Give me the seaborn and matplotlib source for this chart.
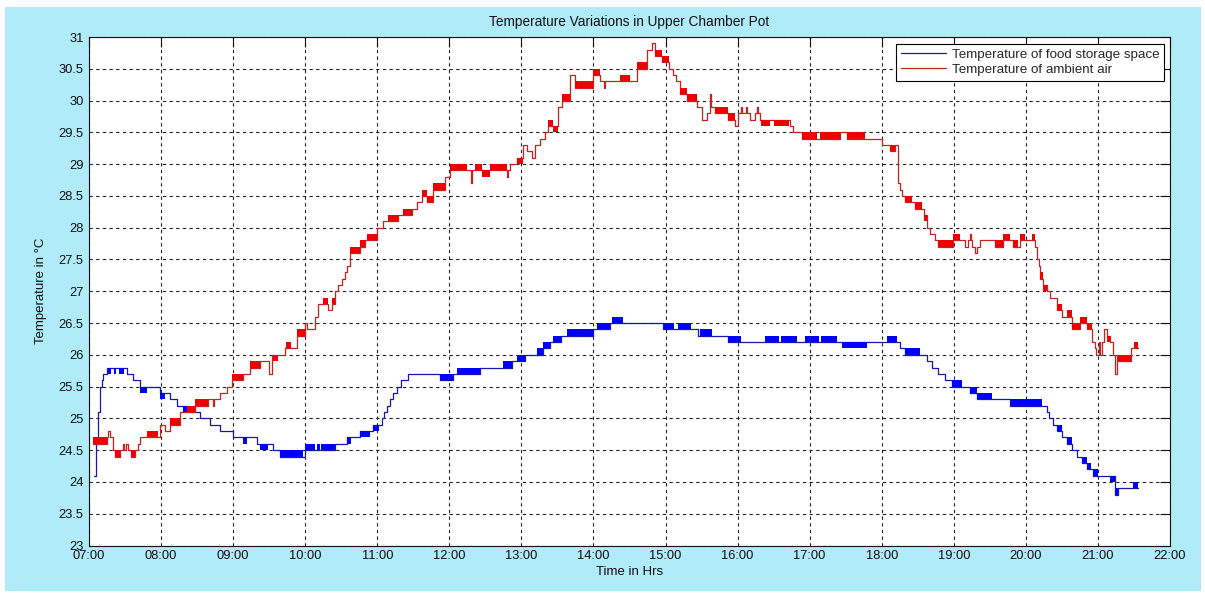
import matplotlib
matplotlib.use("Agg")
import matplotlib.pyplot as plt
from matplotlib.patches import Rectangle
import pandas as pd
import seaborn as sns

# ---------------- data (time in decimal hours) ----------------
food_time = [7.07, 7.10, 7.13, 7.15, 7.18, 7.20, 7.25, 7.53, 7.61, 7.71, 7.99, 8.12, 8.22, 8.40,
             8.54, 8.68, 8.82, 9.00, 9.33, 9.55, 9.65, 10.00, 10.41, 10.58, 10.76, 10.94, 11.06,
             11.10, 11.14, 11.18, 11.22, 11.27, 11.33, 11.42, 11.87, 12.05, 12.43, 12.87, 13.05,
             13.30, 13.40, 13.55, 13.99, 14.23, 14.96, 15.45, 15.87, 18.25, 18.32, 18.63, 18.70,
             18.78, 18.88, 18.97, 19.22, 19.32, 19.78, 20.29, 20.32, 20.38, 20.43, 20.50, 20.57,
             20.64, 20.71, 20.78, 20.85, 20.93, 21.24, 21.28, 21.56]
food_temp = [24.1, 24.6, 25.1, 25.5, 25.6, 25.7, 25.8, 25.7, 25.6, 25.5, 25.4, 25.3, 25.2, 25.1,
             25.0, 24.9, 24.8, 24.7, 24.6, 24.5, 24.4, 24.5, 24.6, 24.7, 24.8, 24.9, 25.0,
             25.1, 25.2, 25.3, 25.4, 25.5, 25.6, 25.7, 25.6, 25.7, 25.8, 25.9, 26.0,
             26.1, 26.2, 26.3, 26.4, 26.5, 26.4, 26.3, 26.2, 26.1, 26.0, 25.9, 25.8,
             25.7, 25.6, 25.5, 25.4, 25.3, 25.2, 25.1, 25.0, 24.9, 24.8, 24.7, 24.6,
             24.5, 24.4, 24.3, 24.2, 24.1, 23.8, 23.9, 23.9]
food_band_start = [7.26, 7.34, 7.42, 7.71, 7.99, 8.30, 9.14, 9.37, 9.65, 10.00, 10.16, 10.22,
                   10.58, 10.76, 10.94, 11.87, 12.10, 12.74, 12.94, 13.22, 13.30, 13.44, 13.63,
                   14.05, 14.26, 14.98, 15.17, 15.48, 15.87, 16.38, 16.60, 16.93, 17.16, 17.45,
                   18.07, 18.32, 18.97, 19.22, 19.32, 19.80, 20.43, 20.57, 20.78, 20.85, 20.93,
                   21.17, 21.24, 21.49]
food_band_end = [7.30, 7.38, 7.48, 7.80, 8.06, 8.37, 9.19, 9.48, 9.97, 10.13, 10.20, 10.41,
                 10.64, 10.90, 11.03, 12.05, 12.43, 12.87, 13.05, 13.30, 13.40, 13.55, 13.99,
                 14.23, 14.41, 15.12, 15.35, 15.64, 16.05, 16.58, 16.82, 17.13, 17.38, 17.80,
                 18.21, 18.53, 19.11, 19.32, 19.53, 20.22, 20.50, 20.64, 20.85, 20.90, 21.00,
                 21.24, 21.28, 21.56]
food_band_low = [25.7, 25.7, 25.7, 25.4, 25.3, 25.1, 24.6, 24.5, 24.4, 24.5, 24.5, 24.5,
                 24.6, 24.7, 24.8, 25.6, 25.7, 25.8, 25.9, 26.0, 26.1, 26.2, 26.3,
                 26.4, 26.5, 26.4, 26.4, 26.3, 26.2, 26.2, 26.2, 26.2, 26.2, 26.1,
                 26.2, 26.0, 25.5, 25.4, 25.3, 25.2, 24.8, 24.6, 24.3, 24.2, 24.1,
                 24.0, 23.8, 23.9]
food_band_high = [25.8, 25.8, 25.8, 25.5, 25.4, 25.2, 24.7, 24.6, 24.5, 24.6, 24.6, 24.6,
                  24.7, 24.8, 24.9, 25.7, 25.8, 25.9, 26.0, 26.1, 26.2, 26.3, 26.4,
                  26.5, 26.6, 26.5, 26.5, 26.4, 26.3, 26.3, 26.3, 26.3, 26.3, 26.2,
                  26.3, 26.1, 25.6, 25.5, 25.4, 25.3, 24.9, 24.7, 24.4, 24.3, 24.2,
                  24.1, 23.9, 24.0]

air_time = [7.06, 7.25, 7.27, 7.285, 7.33, 7.36, 7.43, 7.47, 7.485, 7.52, 7.535, 7.58, 7.64,
            7.68, 7.71, 7.99, 8.05, 8.12, 8.26, 8.47, 8.65, 8.72, 8.735, 8.82, 8.92, 8.99,
            9.14, 9.24, 9.37, 9.50, 9.54, 9.72, 9.89, 10.00, 10.03, 10.14, 10.18, 10.32,
            10.37, 10.41, 10.46, 10.51, 10.55, 10.58, 10.62, 10.76, 10.83, 11.00, 11.08,
            11.29, 11.48, 11.55, 11.62, 11.69, 11.78, 11.94, 12.01, 12.30, 12.315, 12.80,
            12.815, 12.84, 12.94, 13.02, 13.08, 13.15, 13.19, 13.26, 13.33, 13.37, 13.51,
            13.56, 13.67, 13.74, 13.99, 14.09, 14.15, 14.165, 14.60, 14.74, 14.81, 14.86,
            14.95, 15.05, 15.10, 15.15, 15.20, 15.30, 15.44, 15.51, 15.58, 15.62, 15.635,
            15.69, 15.87, 15.96, 16.00, 16.05, 16.065, 16.12, 16.135, 16.17, 16.24, 16.27,
            16.285, 16.31, 16.73, 16.77, 16.90, 17.42, 17.52, 18.00, 18.11, 18.18, 18.22,
            18.23, 18.25, 18.28, 18.32, 18.46, 18.58, 18.63, 18.67, 18.74, 18.78, 18.99,
            19.15, 19.20, 19.22, 19.235, 19.25, 19.29, 19.32, 19.36, 19.57, 19.68, 19.82,
            19.92, 20.13, 20.15, 20.18, 20.20, 20.24, 20.29, 20.33, 20.43, 20.50, 20.64,
            20.75, 20.85, 20.92, 20.96, 20.98, 21.02, 21.035, 21.06, 21.09, 21.13, 21.17,
            21.21, 21.23, 21.27, 21.28, 21.46, 21.56]
air_temp = [24.6, 24.7, 24.8, 24.7, 24.5, 24.4, 24.5, 24.6, 24.5, 24.6, 24.5, 24.4, 24.5,
            24.6, 24.7, 24.9, 24.8, 24.9, 25.1, 25.2, 25.3, 25.2, 25.3, 25.4, 25.5, 25.6,
            25.7, 25.8, 25.9, 25.7, 26.0, 26.1, 26.3, 26.5, 26.4, 26.6, 26.8, 26.7,
            26.8, 27.0, 27.1, 27.2, 27.3, 27.4, 27.6, 27.7, 27.8, 28.0, 28.1,
            28.2, 28.3, 28.4, 28.5, 28.4, 28.6, 28.8, 28.9, 28.7, 28.9, 28.8,
            28.9, 29.0, 29.1, 29.3, 29.2, 29.1, 29.3, 29.4, 29.5, 29.6, 29.9,
            30.0, 30.4, 30.2, 30.4, 30.3, 30.2, 30.3, 30.5, 30.8, 30.9, 30.7,
            30.6, 30.5, 30.4, 30.3, 30.1, 30.0, 29.9, 29.7, 29.8, 30.1, 29.9,
            29.8, 29.7, 29.6, 29.8, 29.9, 29.8, 29.9, 29.8, 29.7, 29.8, 29.9,
            29.8, 29.7, 29.6, 29.5, 29.4, 29.5, 29.4, 29.3, 29.2, 29.3, 29.0,
            28.7, 28.6, 28.5, 28.4, 28.3, 28.2, 28.0, 27.9, 27.8, 27.7, 27.8,
            27.7, 27.8, 27.9, 27.8, 27.7, 27.6, 27.7, 27.8, 27.7, 27.8, 27.7,
            27.8, 27.7, 27.5, 27.4, 27.2, 27.1, 27.0, 26.9, 26.7, 26.6, 26.4,
            26.5, 26.4, 26.2, 26.1, 26.0, 26.2, 26.0, 26.2, 26.4, 26.3, 26.2,
            26.0, 25.7, 26.0, 25.9, 26.1, 26.1]
air_band_start = [7.06, 7.36, 7.58, 7.80, 8.12, 8.36, 8.47, 8.99, 9.24, 9.55, 9.74, 9.89,
                  10.25, 10.37, 10.62, 10.76, 10.86, 11.15, 11.36, 11.62, 11.69, 11.78, 12.01,
                  12.36, 12.45, 12.56, 12.94, 13.37, 13.44, 13.56, 13.74, 13.99, 14.37, 14.60,
                  14.86, 14.95, 15.20, 15.30, 15.69, 15.87, 16.33, 16.50, 16.90, 17.14, 17.52,
                  18.11, 18.32, 18.46, 18.58, 18.78, 18.99, 19.57, 19.68, 19.82, 19.92, 20.08,
                  20.20, 20.24, 20.43, 20.57, 20.64, 20.75, 20.85, 21.13, 21.28, 21.50]
air_band_end = [7.25, 7.43, 7.64, 7.96, 8.26, 8.47, 8.65, 9.14, 9.37, 9.62, 9.80, 10.00,
                10.32, 10.41, 10.76, 10.83, 11.00, 11.29, 11.48, 11.69, 11.78, 11.94, 12.24,
                12.45, 12.56, 12.80, 13.02, 13.44, 13.51, 13.67, 13.99, 14.09, 14.51, 14.74,
                14.95, 15.05, 15.30, 15.44, 15.87, 15.96, 16.45, 16.72, 17.10, 17.42, 17.77,
                18.18, 18.42, 18.56, 18.63, 18.99, 19.09, 19.68, 19.78, 19.89, 19.99, 20.13,
                20.24, 20.29, 20.50, 20.64, 20.75, 20.85, 20.92, 21.17, 21.46, 21.56]
air_band_low = [24.6, 24.4, 24.4, 24.7, 24.9, 25.1, 25.2, 25.6, 25.8, 25.9, 26.1, 26.3,
                26.8, 26.8, 27.6, 27.7, 27.8, 28.1, 28.2, 28.5, 28.4, 28.6, 28.9,
                28.9, 28.8, 28.9, 29.0, 29.6, 29.5, 30.0, 30.2, 30.4, 30.3, 30.5,
                30.7, 30.6, 30.1, 30.0, 29.8, 29.7, 29.6, 29.6, 29.4, 29.4, 29.4,
                29.2, 28.4, 28.3, 28.1, 27.7, 27.8, 27.7, 27.8, 27.7, 27.8, 27.8,
                27.2, 27.0, 26.7, 26.6, 26.4, 26.5, 26.4, 26.2, 25.9, 26.1]
air_band_high = [24.7, 24.5, 24.5, 24.8, 25.0, 25.2, 25.3, 25.7, 25.9, 26.0, 26.2, 26.4,
                 26.9, 26.9, 27.7, 27.8, 27.9, 28.2, 28.3, 28.6, 28.5, 28.7, 29.0,
                 29.0, 28.9, 29.0, 29.1, 29.7, 29.6, 30.1, 30.3, 30.5, 30.4, 30.6,
                 30.8, 30.7, 30.2, 30.1, 29.9, 29.8, 29.7, 29.7, 29.5, 29.5, 29.5,
                 29.3, 28.5, 28.4, 28.2, 27.8, 27.9, 27.8, 27.9, 27.8, 27.9, 27.9,
                 27.3, 27.1, 26.8, 26.7, 26.5, 26.6, 26.5, 26.3, 26.0, 26.2]

hour_ticks = list(range(7, 23))
hour_labels = ["07:00", "08:00", "09:00", "10:00", "11:00", "12:00", "13:00", "14:00",
               "15:00", "16:00", "17:00", "18:00", "19:00", "20:00", "21:00", "22:00"]
temp_ticks = [23, 23.5, 24, 24.5, 25, 25.5, 26, 26.5, 27, 27.5, 28, 28.5, 29, 29.5, 30, 30.5, 31]
temp_labels = ["23", "23.5", "24", "24.5", "25", "25.5", "26", "26.5", "27", "27.5", "28",
               "28.5", "29", "29.5", "30", "30.5", "31"]

series_labels = ["Temperature of food storage space", "Temperature of ambient air"]

# ---------------- styling ----------------
sns.set_style("white")
plt.rcParams["font.family"] = ["Liberation Sans", "DejaVu Sans"]

W, H = 1205, 595
fig = plt.figure(figsize=(W / 100, H / 100), dpi=100, facecolor="#b0ebfa")
ax = fig.add_axes([89 / W, 1 - 545.5 / H, (1170 - 89) / W, (545.5 - 37) / H])
ax.set_facecolor("white")

# white screenshot margins
for (x0, y0, w, h) in [(0, H - 7, W, 7), (0, 0, 5, H), (W - 4, 0, 4, H), (0, 0, W, 4)]:
    fig.patches.append(Rectangle((x0 / W, y0 / H), w / W, h / H, transform=fig.transFigure,
                                 facecolor="white", edgecolor="none", zorder=0))

food_df = pd.DataFrame({"time": food_time, "temp": food_temp})
air_df = pd.DataFrame({"time": air_time, "temp": air_temp})

line_blue = "#1818b0"
line_red = "#cc2020"
band_blue = "#0000ff"
band_red = "#ee0000"

sns.lineplot(data=food_df, x="time", y="temp", ax=ax, color=line_blue, linewidth=0.9,
             drawstyle="steps-post", estimator=None, label=series_labels[0], zorder=3)
sns.lineplot(data=air_df, x="time", y="temp", ax=ax, color=line_red, linewidth=0.9,
             drawstyle="steps-post", estimator=None, label=series_labels[1], zorder=3)

for s, e, lo, hi in zip(food_band_start, food_band_end, food_band_low, food_band_high):
    ax.fill_between([s, e], [lo, lo], [hi, hi], color=band_blue, linewidth=0, zorder=4)
for s, e, lo, hi in zip(air_band_start, air_band_end, air_band_low, air_band_high):
    ax.fill_between([s, e], [lo, lo], [hi, hi], color=band_red, linewidth=0, zorder=4)

ax.set_xlim(7, 22)
ax.set_ylim(23, 31)
ax.set_xticks(hour_ticks)
ax.set_xticklabels(hour_labels)
ax.set_yticks(temp_ticks)
ax.set_yticklabels(temp_labels)

ax.grid(True, color="#222222", linestyle=(0, (3, 3)), linewidth=0.8)
ax.set_axisbelow(True)
ax.tick_params(direction="in", length=7, width=0.8, top=True, right=True,
               labelsize=9.3, colors="#111111", pad=3)
ax.tick_params(axis="y", pad=4)
for sp in ax.spines.values():
    sp.set_color("#111111")
    sp.set_linewidth(0.8)

ax.set_title("Temperature Variations in Upper Chamber Pot", fontsize=9.8, pad=8, color="#111111")
ax.set_xlabel("Time in Hrs", fontsize=9.5, labelpad=3, color="#111111")
ax.set_ylabel("Temperature in \u00b0C", fontsize=9.5, labelpad=8, color="#111111")

leg = ax.legend(loc="upper right", bbox_to_anchor=(0.9945, 0.9862), borderaxespad=0,
                fontsize=9.6, frameon=True, fancybox=False, framealpha=1, edgecolor="black",
                handlelength=3.4, handletextpad=0.4, borderpad=0.35, labelspacing=0.2)
leg.get_frame().set_linewidth(0.8)

fig.savefig("out.png", dpi=100, facecolor=fig.get_facecolor())
